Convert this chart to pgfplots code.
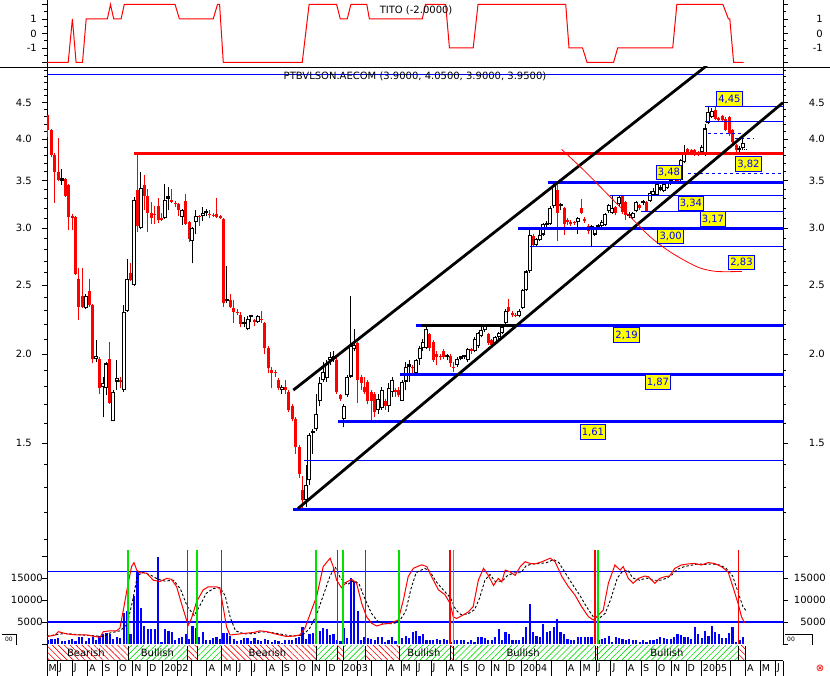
\documentclass[border=0pt]{standalone}
\usepackage{fontspec}
\setmainfont{DejaVu Sans}
\usepackage{pgfplots}
\pgfplotsset{compat=1.18}
\usepackage{pgfplotstable}
\usetikzlibrary{patterns.meta}
\definecolor{pblue}{RGB}{0,0,255}
\definecolor{pred}{RGB}{255,0,0}
\definecolor{pgreen}{RGB}{0,225,0}
\definecolor{pyellow}{RGB}{255,255,0}

% weekly candles: k = week index, o h l c
\pgfplotstableread{
k o h l c
0 4.32 4.32 4.03 4.12
1 4.12 4.13 3.78 3.80
2 3.80 3.82 3.26 3.60
3 3.60 4.01 3.50 3.51
5 3.52 3.53 3.32 3.33
6 3.45 3.46 2.98 3.11
7 3.12 3.14 2.98 3.10
8 3.11 3.12 2.58 2.59
9 2.55 2.64 2.23 2.33
10 2.41 2.64 2.32 2.33
12 2.45 2.55 2.33 2.34
13 2.34 2.35 1.94 1.97
15 1.97 1.98 1.76 1.79
18 1.97 2.08 1.70 1.71
21 1.84 1.86 1.79 1.83
24 2.60 2.68 2.53 2.54
26 3.40 3.81 2.96 3.02
28 3.45 3.56 3.18 3.33
29 3.33 3.41 2.96 3.15
30 3.15 3.27 3.04 3.10
31 3.14 3.22 3.04 3.13
32 3.22 3.31 3.05 3.08
33 3.10 3.15 3.07 3.08
36 3.29 3.41 3.26 3.27
37 3.25 3.28 3.21 3.24
38 3.24 3.25 3.12 3.18
40 3.28 3.35 3.03 3.04
41 3.06 3.07 2.87 2.90
44 3.12 3.13 3.02 3.11
47 3.14 3.18 3.10 3.13
48 3.13 3.15 3.11 3.12
49 3.14 3.31 3.10 3.11
50 3.12 3.13 3.09 3.10
51 3.09 3.10 2.33 2.36
53 2.38 2.43 2.32 2.33
54 2.32 2.38 2.21 2.29
55 2.29 2.31 2.27 2.28
56 2.27 2.29 2.18 2.20
60 2.23 2.24 2.19 2.22
62 2.24 2.30 2.21 2.23
63 2.21 2.22 2.00 2.04
64 2.04 2.05 1.88 1.91
65 1.90 1.92 1.79 1.88
66 1.89 1.90 1.86 1.88
67 1.84 1.85 1.78 1.79
69 1.80 1.84 1.76 1.78
70 1.77 1.78 1.66 1.67
71 1.69 1.70 1.61 1.62
72 1.62 1.63 1.45 1.48
73 1.48 1.49 1.34 1.36
74 1.29 1.35 1.21 1.25
84 1.96 1.98 1.76 1.77
85 1.75 1.76 1.72 1.73
90 2.07 2.08 1.71 1.84
91 1.86 1.87 1.78 1.82
92 1.80 1.86 1.76 1.77
93 1.83 1.84 1.70 1.72
94 1.77 1.78 1.61 1.72
95 1.76 1.77 1.63 1.66
98 1.72 1.73 1.67 1.69
101 1.78 1.79 1.74 1.77
102 1.78 1.80 1.74 1.75
106 1.92 1.93 1.88 1.91
111 2.13 2.14 2.02 2.04
112 2.08 2.09 1.95 1.96
113 2.00 2.02 1.93 1.98
114 1.99 2.00 1.96 1.98
115 2.02 2.03 1.97 1.98
117 1.99 2.00 1.92 1.94
118 1.92 1.95 1.89 1.91
123 2.03 2.04 2.00 2.02
128 2.13 2.14 2.06 2.07
129 2.09 2.10 2.05 2.06
134 2.33 2.39 2.29 2.30
135 2.28 2.30 2.25 2.27
136 2.27 2.28 2.25 2.26
141 2.93 2.95 2.82 2.84
148 3.39 3.45 2.88 3.15
150 3.20 3.21 2.94 3.04
151 3.08 3.10 3.03 3.06
152 3.06 3.08 3.02 3.04
153 3.06 3.07 3.03 3.05
155 3.20 3.30 3.14 3.15
156 3.09 3.11 3.05 3.07
157 3.02 3.04 2.95 2.97
165 3.21 3.22 3.13 3.15
167 3.33 3.34 3.14 3.16
168 3.27 3.28 3.08 3.13
172 3.23 3.24 3.18 3.20
174 3.27 3.28 3.16 3.17
183 3.53 3.54 3.48 3.50
186 3.88 3.89 3.80 3.82
187 3.86 3.87 3.80 3.82
188 3.86 3.87 3.79 3.81
189 3.84 3.85 3.79 3.81
194 4.39 4.44 4.26 4.27
195 4.28 4.29 4.24 4.26
196 4.31 4.32 4.23 4.25
197 4.27 4.30 4.10 4.12
198 4.30 4.31 4.04 4.06
199 4.12 4.13 3.94 3.96
200 3.92 3.94 3.84 3.86
}\redtab

\pgfplotstableread{
k o h l c
4 3.50 3.63 3.45 3.51
11 2.32 2.43 2.31 2.41
14 1.97 2.09 1.95 1.99
16 1.80 1.86 1.63 1.82
17 1.79 1.95 1.75 1.94
19 1.61 1.78 1.61 1.77
20 1.83 1.96 1.78 1.85
22 1.78 2.34 1.77 2.29
23 2.30 2.72 2.29 2.55
25 2.50 3.32 2.49 3.29
27 3.00 3.60 2.99 3.42
34 3.10 3.46 3.09 3.29
35 3.30 3.43 3.18 3.32
39 3.11 3.19 3.03 3.18
42 2.88 3.01 2.68 3.00
43 3.06 3.18 2.95 3.12
45 3.12 3.21 3.07 3.15
46 3.15 3.19 3.12 3.17
52 2.37 2.66 2.36 2.38
57 2.20 2.25 2.18 2.21
58 2.17 2.26 2.16 2.24
59 2.25 2.27 2.22 2.26
61 2.22 2.27 2.21 2.26
68 1.78 1.81 1.76 1.80
75 1.25 1.40 1.22 1.31
76 1.33 1.55 1.31 1.54
77 1.55 1.57 1.45 1.56
78 1.57 1.76 1.56 1.65
79 1.72 1.86 1.69 1.82
80 1.84 1.95 1.83 1.89
81 1.85 1.96 1.83 1.94
82 1.96 2.01 1.93 1.98
83 1.97 2.02 1.95 1.99
86 1.62 1.70 1.58 1.69
87 1.75 1.87 1.74 1.86
88 1.86 2.41 1.85 2.05
89 2.03 2.17 2.02 2.06
96 1.67 1.76 1.65 1.73
97 1.68 1.80 1.67 1.78
99 1.69 1.82 1.66 1.79
100 1.77 1.86 1.74 1.84
103 1.72 1.84 1.72 1.83
104 1.83 1.95 1.78 1.92
105 1.92 1.96 1.83 1.93
107 1.88 1.97 1.87 1.96
108 1.97 2.05 1.93 2.04
109 2.04 2.10 2.02 2.08
110 2.04 2.19 2.03 2.17
116 1.98 2.00 1.96 1.99
119 1.93 1.98 1.92 1.97
120 1.97 1.99 1.96 1.98
121 1.98 1.99 1.97 1.99
122 1.96 2.04 1.95 2.03
124 2.02 2.11 2.01 2.10
125 2.05 2.15 2.04 2.14
126 2.12 2.18 2.11 2.16
127 2.16 2.20 2.15 2.19
130 2.07 2.12 2.06 2.11
131 2.11 2.15 2.10 2.14
132 2.14 2.19 2.13 2.18
133 2.21 2.31 2.20 2.30
137 2.26 2.31 2.25 2.30
138 2.32 2.47 2.31 2.46
139 2.46 2.62 2.45 2.61
140 2.61 3.00 2.60 2.94
142 2.84 2.91 2.83 2.90
143 2.89 3.00 2.88 2.94
144 2.94 3.05 2.93 3.04
145 3.03 3.07 3.01 3.05
146 3.04 3.22 3.03 3.20
147 3.22 3.48 3.20 3.44
149 3.22 3.26 3.18 3.23
154 3.06 3.11 2.95 3.10
158 3.00 3.03 2.82 3.02
159 2.94 3.01 2.93 3.00
160 3.01 3.04 3.00 3.02
161 3.02 3.08 3.01 3.06
162 3.03 3.15 3.02 3.14
163 3.17 3.24 3.15 3.23
164 3.15 3.33 3.14 3.20
166 3.24 3.33 3.22 3.32
169 3.12 3.16 3.10 3.14
170 3.10 3.16 3.09 3.15
171 3.17 3.28 3.16 3.27
173 3.25 3.29 3.23 3.26
175 3.28 3.38 3.27 3.36
176 3.34 3.42 3.33 3.38
177 3.34 3.47 3.33 3.46
178 3.40 3.45 3.38 3.42
179 3.38 3.47 3.37 3.46
180 3.42 3.49 3.41 3.48
181 3.46 3.52 3.45 3.51
182 3.48 3.53 3.47 3.52
184 3.51 3.75 3.50 3.74
185 3.71 3.93 3.70 3.82
190 3.84 3.92 3.83 3.90
191 3.80 4.20 3.79 4.14
192 4.21 4.45 4.20 4.36
193 4.30 4.42 4.28 4.38
201 3.86 3.91 3.84 3.88
202 3.89 4.05 3.88 3.95
}\blacktab

\pgfplotstableread{
k v
0 1000
1 1100
2 1200
3 1300
4 600
5 700
6 800
7 1100
8 700
9 1700
10 1500
11 600
12 1300
13 1500
14 1000
15 1900
16 2300
17 2600
18 2200
19 1100
20 1500
21 1300
22 7000
23 7600
24 2300
25 11000
26 16600
27 8200
28 4000
29 3300
30 3300
31 3400
32 19700
33 400
34 3400
35 3000
36 2800
37 1000
38 1400
39 1500
40 2300
41 1200
42 4000
43 3700
44 1700
45 2800
46 800
47 800
48 1400
49 1700
50 1100
51 2600
52 2500
53 1900
54 1200
55 700
56 1000
57 1300
58 1400
59 700
60 1300
61 800
62 700
63 1100
64 900
65 400
66 800
67 600
68 300
69 800
70 1000
71 900
72 1300
73 1500
74 3800
75 1100
76 2300
77 2500
78 3300
79 3000
80 3700
81 3300
82 2100
83 2200
84 900
85 700
86 3600
87 1300
88 15000
89 14300
90 7400
91 1000
92 1600
93 1300
94 1100
95 900
96 1500
97 1600
98 500
99 800
100 1600
101 700
102 500
103 1300
104 1900
105 1300
106 2700
107 3000
108 1900
109 2300
110 800
111 800
112 800
113 1100
114 800
115 1100
116 800
117 400
118 800
119 800
120 800
121 800
122 500
123 800
124 500
125 1700
126 1500
127 1300
128 800
129 800
130 1700
131 3300
132 800
133 2800
134 2300
135 800
136 800
137 800
138 1500
139 3800
140 9100
141 2700
142 1900
143 1500
144 4500
145 2700
146 3000
147 3800
148 5700
149 2700
150 2300
151 1100
152 800
153 800
154 1500
155 1700
156 1700
157 1500
158 1700
159 800
160 800
161 1100
162 1300
163 1900
164 500
165 1500
166 1300
167 1100
168 800
169 1100
170 800
171 800
172 400
173 800
174 500
175 800
176 1000
177 1100
178 1500
179 1300
180 1100
181 1100
182 1500
183 2300
184 2000
185 1700
186 1500
187 1100
188 3800
189 2300
190 1300
191 3000
192 1900
193 4200
194 2700
195 2300
196 1300
197 1300
198 2500
199 3800
200 500
201 800
202 1500
}\voltab

\pgfplotsset{
  base/.style={scale only axis, width=736pt, xmin=-0.29, xmax=213.66, xtick=\empty,
    tick align=outside, major tick length=5pt, minor tick length=3pt,
    tick style={black, line width=0.6pt}, axis line style={black, line width=0.8pt},
    anchor=north west},
  rlab/.style={axis line style={draw=none}, major tick length=0pt, minor tick length=0pt,
    yticklabel pos=right, yticklabel style={anchor=east, inner sep=0pt, xshift=#1}},
  candle/.style={only marks, mark size=0pt, mark options={draw=none, fill=none}, forget plot,
    error bars/y dir=plus, error bars/y explicit, error bars/error mark=none,
    error bars/error bar style={#1}},
  hl/.style={forget plot},
}
\tikzset{lbl/.style={fill=pyellow, draw=pblue, line width=0.9pt, text=pblue, inner sep=1.8pt,
    minimum height=14.5pt}}

\begin{document}
\begin{tikzpicture}[x=1pt,y=1pt,font=\fontsize{10}{12}\selectfont]
\useasboundingbox (0pt,0pt) rectangle (830pt,-676pt);

% ---------------- TITO panel ----------------
\begin{axis}[base, at={(47pt,0pt)}, height=67pt, ymin=-2.31, ymax=2.31,
  separate axis lines, x axis line style={draw=none},
  ytick={-2,-1,0,1,2}, yticklabels={,-1,0,1,}, minor ytick={-1.5,-0.5,0.5,1.5},
  yticklabel style={anchor=east, inner sep=0pt, xshift=-5pt}]
\addplot[pred, line width=1pt] coordinates {(-0.29,-2)(5.87,-2)(7.09,1)(8.17,-2)(10.03,-2)(11.1,1)(17.24,1)(18.17,2)(19.1,1)(21.25,1)(22.18,2)(36.95,2)(38.2,1)(48.02,1)(49.27,2)(49.88,2)(50.96,-2)(73.9,-2)(75.9,2)(83.9,2)(84.97,1)(86.98,1)(88.05,2)(92.67,2)(93.43,1)(108.8,1)(109.74,2)(115.6,2)(116.7,-1)(123.6,-1)(125,2)(150.5,2)(151.45,-1)(155.4,-1)(156.7,-2)(164.4,-2)(165.6,-1)(181.6,-1)(182.8,2)(196.2,2)(197.8,1)(198.2,1)(199.3,-2)(202.2,-2)};
\node at (axis cs:107,1.62) {TITO (-2.0000)};
\end{axis}
\begin{axis}[base, at={(47pt,0pt)}, height=67pt, ymin=-2.31, ymax=2.31, rlab=40pt,
  ytick={-1,0,1}, yticklabels={-1,0,1}]
\end{axis}

% ---------------- price panel ----------------
\begin{axis}[base, at={(47pt,-67pt)}, height=477pt, ymin=0.0802, ymax=1.6189,
  separate axis lines, x axis line style={draw=none},
  ytick={0.40547,0.69315,0.91629,1.09861,1.25276,1.38629,1.50408},
  yticklabels={1.5,2.0,2.5,3.0,3.5,4.0,4.5},
  minor ytick={0.09531,0.18232,0.26236,0.33647,0.47000,0.53063,0.58779,0.64185,0.74194,0.78846,0.83291,0.87547,0.95551,0.99325,1.02962,1.06471,1.13140,1.16315,1.19392,1.22378,1.28093,1.30833,1.33500,1.36098,1.41099,1.43508,1.45862,1.48160,1.52606,1.54756,1.56862,1.58924,1.60944},
  yticklabel style={anchor=east, inner sep=0pt, xshift=-10pt}]
% red candles: wicks then bodies
\addplot[candle={pred, line width=1pt}] table[x=k, y expr=ln(\thisrow{l}), y error expr=ln(\thisrow{h})-ln(\thisrow{l})] {\redtab};
\addplot[candle={pred, line width=3pt}] table[x=k, y expr=ln(\thisrow{c}), y error expr={max(ln(\thisrow{o})-ln(\thisrow{c}),0.005)}] {\redtab};
% black candles: wicks, outline, hollow interior
\addplot[candle={black, line width=1pt}] table[x=k, y expr=ln(\thisrow{l}), y error expr=ln(\thisrow{h})-ln(\thisrow{l})] {\blacktab};
\addplot[candle={black, line width=4pt}] table[x=k, y expr=ln(\thisrow{o}), y error expr={max(ln(\thisrow{c})-ln(\thisrow{o}),0.008)}] {\blacktab};
\addplot[candle={white, line width=2pt}] table[x=k, y expr={ln(\thisrow{o})+0.0035}, y error expr={max(ln(\thisrow{c})-ln(\thisrow{o})-0.007,0)}] {\blacktab};
% horizontal levels
\addplot[hl, pblue, line width=1pt] table[row sep=\\, y expr=ln(\thisrow{p})] {k p\\ -0.29 4.92\\ 213.66 4.92\\};
\addplot[hl, pblue, line width=1pt] table[row sep=\\, y expr=ln(\thisrow{p})] {k p\\ 191 4.45\\ 213.66 4.45\\};
\addplot[hl, pblue, line width=1pt] table[row sep=\\, y expr=ln(\thisrow{p})] {k p\\ 191 4.23\\ 213.66 4.23\\};
\addplot[hl, pblue, line width=1pt, dash pattern=on 3pt off 3pt] table[row sep=\\, y expr=ln(\thisrow{p})] {k p\\ 191.9 4.07\\ 202 4.07\\};
\addplot[hl, pblue, line width=1pt, dash pattern=on 3pt off 3pt] table[row sep=\\, y expr=ln(\thisrow{p})] {k p\\ 199.7 4.01\\ 205 4.01\\};
\addplot[hl, black, line width=0.8pt, dash pattern=on 1pt off 1pt] table[row sep=\\, y expr=ln(\thisrow{p})] {k p\\ 201.8 3.87\\ 203.4 3.87\\};
\addplot[hl, pblue, line width=1pt, dash pattern=on 3pt off 3pt] table[row sep=\\, y expr=ln(\thisrow{p})] {k p\\ 186 3.58\\ 213.66 3.58\\};
\addplot[hl, pred, line width=3pt] table[row sep=\\, y expr=ln(\thisrow{p})] {k p\\ 25 3.82\\ 213.66 3.82\\};
\addplot[hl, pblue, line width=3pt] table[row sep=\\, y expr=ln(\thisrow{p})] {k p\\ 145.3 3.48\\ 213.66 3.48\\};
\addplot[hl, pblue, line width=1pt] table[row sep=\\, y expr=ln(\thisrow{p})] {k p\\ 163.4 3.34\\ 213.66 3.34\\};
\addplot[hl, pblue, line width=1pt] table[row sep=\\, y expr=ln(\thisrow{p})] {k p\\ 172.4 3.17\\ 213.66 3.17\\};
\addplot[hl, pblue, line width=3.5pt] table[row sep=\\, y expr=ln(\thisrow{p})] {k p\\ 136.6 3.00\\ 213.66 3.00\\};
\addplot[hl, pblue, line width=1pt] table[row sep=\\, y expr=ln(\thisrow{p})] {k p\\ 140.1 2.83\\ 213.66 2.83\\};
\addplot[hl, pblue, line width=3pt] table[row sep=\\, y expr=ln(\thisrow{p})] {k p\\ 107 2.19\\ 213.66 2.19\\};
\addplot[hl, black, line width=3pt] table[row sep=\\, y expr=ln(\thisrow{p})] {k p\\ 108.5 2.19\\ 136 2.19\\};
\addplot[hl, pblue, line width=3pt] table[row sep=\\, y expr=ln(\thisrow{p})] {k p\\ 102.3 1.87\\ 213.66 1.87\\};
\addplot[hl, pblue, line width=3pt] table[row sep=\\, y expr=ln(\thisrow{p})] {k p\\ 84.3 1.61\\ 213.66 1.61\\};
\addplot[hl, pblue, line width=1pt] table[row sep=\\, y expr=ln(\thisrow{p})] {k p\\ 74.4 1.42\\ 213.66 1.42\\};
\addplot[hl, pblue, line width=3pt] table[row sep=\\, y expr=ln(\thisrow{p})] {k p\\ 71.2 1.21\\ 213.66 1.21\\};
% trend channel
\addplot[hl, black, line width=2.8pt] table[row sep=\\, y expr=ln(\thisrow{p})] {k p\\ 72.67 1.215\\ 213.66 4.50\\};
\addplot[hl, black, line width=2.8pt] table[row sep=\\, y expr=ln(\thisrow{p})] {k p\\ 71.31 1.78\\ 191.5 5.07\\};
% red arc
\addplot[hl, pred, line width=0.8pt, smooth] table[row sep=\\, y expr=ln(\thisrow{p})] {k p\\ 149.3 3.87\\ 154.7 3.66\\ 158.5 3.51\\ 165.3 3.25\\ 171.1 3.05\\ 175 2.92\\ 179.9 2.80\\ 184.7 2.71\\ 189.5 2.64\\ 194.4 2.61\\ 201.7 2.61\\};
% labels
\node[inner sep=1pt] at (axis cs:106.7,1.5899) {PTBVLSON.AECOM (3.9000, 4.0500, 3.9000, 3.9500)};
\node[lbl] at (axis cs:198.1,1.5157) {4,45};
\node[lbl] at (axis cs:203.6,1.3060) {3,82};
\node[lbl] at (axis cs:180.5,1.2786) {3,48};
\node[lbl] at (axis cs:186.9,1.1786) {3,34};
\node[lbl] at (axis cs:193.3,1.1286) {3,17};
\node[lbl] at (axis cs:181.0,1.0721) {3,00};
\node[lbl] at (axis cs:201.6,0.9883) {2,83};
\node[lbl] at (axis cs:168.2,0.7544) {2,19};
\node[lbl] at (axis cs:177.3,0.6028) {1,87};
\node[lbl] at (axis cs:158.4,0.4415) {1,61};
\end{axis}
\begin{axis}[base, at={(47pt,-67pt)}, height=477pt, ymin=0.0802, ymax=1.6189, rlab=42pt,
  ytick={0.40547,0.69315,0.91629,1.09861,1.25276,1.38629,1.50408},
  yticklabels={1.5,2.0,2.5,3.0,3.5,4.0,4.5}]
\end{axis}

% ---------------- volume panel ----------------
\begin{axis}[base, at={(47pt,-544pt)}, height=100pt, ymin=0, ymax=22727,
  separate axis lines, x axis line style={draw=none}, scaled y ticks=false,
  ytick={0,5000,10000,15000,20000}, yticklabels={,5000,10000,15000,},
  yticklabel style={anchor=east, inner sep=0pt, xshift=1pt}]
\addplot[ycomb, pblue, line width=2.2pt, forget plot] table[x=k, y=v] {\voltab};
\addplot[hl, pblue, line width=1.2pt] coordinates {(-0.29,16400)(213.66,16400)};
\addplot[hl, pblue, line width=1.2pt] coordinates {(-0.29,5000)(213.66,5000)};
\addplot[hl, black, line width=0.9pt, dash pattern=on 2.5pt off 2pt] coordinates {(-0.29,1800)(3,2200)(5,2400)(9,2100)(13,1900)(16,1700)(18,2500)(21,3000)(23,4500)(24.5,9500)(26,15500)(27.5,16300)(30,15600)(32,14700)(34,14300)(36.5,14500)(38.5,12500)(40.5,8500)(42.5,6500)(44,8500)(46,11500)(48,12600)(50,12800)(51.5,11000)(53,6000)(54.5,3000)(57,2300)(60,2400)(62,2800)(65,2600)(68,2200)(71,1800)(74,2000)(76,3500)(78,6500)(80,11000)(82,15500)(83.5,17500)(85,15000)(87,13500)(89,14500)(90.5,13500)(92,10500)(94,7000)(96,5000)(98,4600)(100,4600)(102,5000)(104,7500)(105.5,12500)(107,16200)(109.5,17200)(111,16500)(113,14000)(115,12200)(117,10500)(118.5,7800)(120,6700)(122,6800)(124,7800)(125.5,10500)(127,14500)(128.5,15800)(130,14200)(132,14300)(133.5,15500)(135.5,16200)(137.5,16200)(139,17800)(141,18200)(143,18300)(145,18500)(147,19200)(148.5,18500)(150.5,16000)(152.5,13500)(154.5,11200)(156.5,8500)(158.5,6200)(160.5,6000)(162,7000)(163.5,10000)(165.5,15000)(167,16500)(168.5,16800)(170,15000)(172,14500)(174,15000)(176,14500)(178,14500)(180,15000)(181.5,15800)(183,17000)(185,17600)(187,17900)(189,18200)(191,18100)(193,18200)(195,18000)(197,17300)(199,15500)(200.5,12000)(202,8500)(203,7500)};
\addplot[hl, pred, line width=1pt] coordinates {(-0.29,1700)(2.0,2000)(3.0,2800)(5.4,2300)(8.3,2050)(11.2,2050)(13.7,1700)(15.1,1500)(16.1,2800)(18.0,3000)(19.9,3000)(20.9,3600)(21.9,7700)(23.3,13800)(24.3,17600)(25.0,18500)(25.8,16800)(26.7,16200)(28.7,16100)(30.6,14500)(32.5,14200)(34.5,14900)(35.9,14700)(37.4,13000)(38.8,9200)(40.3,5400)(40.8,4300)(41.7,5800)(43.2,9600)(45.1,12300)(46.6,13000)(49.0,13000)(50.0,12600)(50.9,8500)(51.9,3900)(52.9,2050)(54.8,2200)(56.8,2400)(59.7,2600)(61.6,3000)(63.6,2800)(65.5,2400)(67.4,2050)(69.4,1700)(71.3,1800)(73.2,2050)(74.7,3600)(76.6,7700)(78.1,10800)(80.0,17600)(82.0,19500)(82.9,17600)(83.9,14500)(85.3,12800)(86.8,14100)(88.3,14700)(89.7,13800)(91.2,9200)(92.6,6200)(94.1,4700)(95.5,4100)(97.5,4550)(99.4,4700)(101.8,5450)(103.3,10000)(104.7,15300)(106.2,17200)(108.6,18000)(110.1,17600)(111.5,15300)(113.5,12300)(115.4,11200)(116.9,9200)(117.8,6200)(118.8,5800)(120.7,6600)(122.2,7300)(123.6,8500)(125.1,14500)(126.6,17200)(128.0,15600)(129.5,13300)(130.9,14900)(131.9,14100)(132.9,16800)(134.3,16400)(135.8,15600)(137.3,17600)(138.7,18700)(140.2,18300)(141.6,18200)(143.6,18700)(146.0,19500)(147.4,18700)(149.4,15300)(151.3,13000)(153.2,11100)(155.1,8500)(157.1,6200)(158.5,5450)(160.0,6600)(161.4,7700)(162.9,13800)(164.8,17950)(166.3,16800)(167.2,17600)(168.7,14900)(170.1,13800)(171.6,14900)(173.5,15450)(174.5,15300)(176.4,13800)(177.8,14900)(179.3,15300)(180.7,15450)(182.2,17200)(184.1,17950)(186.1,18200)(188.0,18300)(189.9,17950)(191.9,18500)(193.8,18300)(195.7,17600)(197.7,16400)(199.1,13000)(200.6,9200)(201.6,6200)(202.5,4800)};
\addplot[ycomb, pgreen, line width=1.6pt, forget plot] coordinates {(23.34,21360)(43.40,21360)(77.91,21360)(85.84,21360)(102.12,21360)(117.82,21360)(159.80,21360)};
\addplot[ycomb, pred, line width=1.6pt, forget plot] coordinates {(40.61,21360)(50.49,21360)(84.10,21360)(92.35,21360)(116.86,21360)(159.01,21360)(200.67,21360)};
\end{axis}
\begin{axis}[base, at={(47pt,-544pt)}, height=100pt, ymin=0, ymax=22727, rlab=43pt,
  scaled y ticks=false, ytick={5000,10000,15000}, yticklabels={5000,10000,15000}]
\end{axis}

% ---------------- signal band and months ----------------
\begin{axis}[base, at={(47pt,-644pt)}, height=32pt, ymin=0, ymax=32, clip=false,
  axis line style={draw=none}, ytick=\empty]
\pgfplotsset{bear/.style={draw=none, forget plot, pattern={Lines[angle=-45,distance=4.2pt,line width=0.6pt]}, pattern color=pred},
  bull/.style={draw=none, forget plot, pattern={Lines[angle=45,distance=4.2pt,line width=0.6pt]}, pattern color=pgreen}}
\addplot[bear] coordinates {(-0.29,15.5)(-0.29,30.5)(23.34,30.5)(23.34,15.5)};
\addplot[bull] coordinates {(23.34,15.5)(23.34,30.5)(40.61,30.5)(40.61,15.5)};
\addplot[bear] coordinates {(40.61,15.5)(40.61,30.5)(43.40,30.5)(43.40,15.5)};
\addplot[bull] coordinates {(43.40,15.5)(43.40,30.5)(50.49,30.5)(50.49,15.5)};
\addplot[bear] coordinates {(50.49,15.5)(50.49,30.5)(77.91,30.5)(77.91,15.5)};
\addplot[bull] coordinates {(77.91,15.5)(77.91,30.5)(84.10,30.5)(84.10,15.5)};
\addplot[bear] coordinates {(84.10,15.5)(84.10,30.5)(85.84,30.5)(85.84,15.5)};
\addplot[bull] coordinates {(85.84,15.5)(85.84,30.5)(92.35,30.5)(92.35,15.5)};
\addplot[bear] coordinates {(92.35,15.5)(92.35,30.5)(102.12,30.5)(102.12,15.5)};
\addplot[bull] coordinates {(102.12,15.5)(102.12,30.5)(116.86,30.5)(116.86,15.5)};
\addplot[bear] coordinates {(116.86,15.5)(116.86,30.5)(117.82,30.5)(117.82,15.5)};
\addplot[bull] coordinates {(117.82,15.5)(117.82,30.5)(159.01,30.5)(159.01,15.5)};
\addplot[bear] coordinates {(159.01,15.5)(159.01,30.5)(159.80,30.5)(159.80,15.5)};
\addplot[bull] coordinates {(159.80,15.5)(159.80,30.5)(200.67,30.5)(200.67,15.5)};
\addplot[bear] coordinates {(200.67,15.5)(200.67,30.5)(202.62,30.5)(202.62,15.5)};
\addplot[only marks, mark size=0pt, mark options={draw=none, fill=none}, forget plot, error bars/y dir=plus, error bars/y fixed=15, error bars/error mark=none, error bars/error bar style={black, line width=0.8pt}] coordinates {(23.34,15.5)(40.61,15.5)(43.40,15.5)(50.49,15.5)(77.91,15.5)(84.10,15.5)(85.84,15.5)(92.35,15.5)(102.12,15.5)(116.86,15.5)(117.82,15.5)(159.01,15.5)(159.80,15.5)(200.67,15.5)(202.62,15.5)};
\addplot[hl, black, line width=0.8pt] coordinates {(-0.29,15.5)(213.66,15.5)};
\node at (axis cs:11.0,23) {Bearish};
\node at (axis cs:31.8,23) {Bullish};
\node at (axis cs:63.8,23) {Bearish};
\node at (axis cs:109.3,23) {Bullish};
\node at (axis cs:138.1,23) {Bullish};
\node at (axis cs:179.9,23) {Bullish};
% month labels
\foreach \mk/\ml in {-0.29/M,2.76/J,7.04/J,11.47/A,15.90/S,20.18/O,24.61/N,28.90/D,33.33/2002,46.18/A,50.47/M,54.90/J,59.18/J,63.61/A,68.04/S,72.33/O,76.76/N,81.04/D,85.47/2003,98.33/A,102.61/M,107.04/J,111.33/J,115.76/A,120.19/S,124.47/O,128.90/N,133.19/D,137.61/2004,150.61/A,154.90/M,159.33/J,163.61/J,168.04/A,172.47/S,176.76/O,181.19/N,185.47/D,189.90/2005,202.76/A,207.04/M,211.47/J}{
  \edef\temp{\noexpand\node[anchor=west, inner sep=0pt, xshift=1.5pt, font=\noexpand\fontsize{9.5}{11}\noexpand\selectfont] at (axis cs:\mk,8) {\ml};}
  \temp
}
\addplot[ycomb, black, line width=0.8pt, forget plot] coordinates {(2.76,15.5)(7.04,15.5)(11.47,15.5)(15.90,15.5)(20.18,15.5)(24.61,15.5)(28.90,15.5)(33.33,15.5)(37.76,15.5)(41.76,15.5)(46.18,15.5)(50.47,15.5)(54.90,15.5)(59.18,15.5)(63.61,15.5)(68.04,15.5)(72.33,15.5)(76.76,15.5)(81.04,15.5)(85.47,15.5)(89.90,15.5)(93.90,15.5)(98.33,15.5)(102.61,15.5)(107.04,15.5)(111.33,15.5)(115.76,15.5)(120.19,15.5)(124.47,15.5)(128.90,15.5)(133.19,15.5)(137.61,15.5)(142.04,15.5)(146.19,15.5)(150.61,15.5)(154.90,15.5)(159.33,15.5)(163.61,15.5)(168.04,15.5)(172.47,15.5)(176.76,15.5)(181.19,15.5)(185.47,15.5)(189.90,15.5)(194.33,15.5)(198.33,15.5)(202.76,15.5)(207.04,15.5)(211.47,15.5)(213.66,15.5)};
\end{axis}

% frame decorations
\draw[line width=0.8pt] (0pt,-67pt) -- (830pt,-67pt);
\draw[line width=0.8pt] (47pt,-644pt) -- (47pt,-676pt);
\node[font=\fontsize{6}{6}\selectfont, inner sep=0pt] at (9pt,-639pt) {00};
\draw[line width=0.6pt] (2pt,-634pt) -- (16pt,-634pt) -- (16pt,-645pt);
\node[font=\fontsize{6}{6}\selectfont, inner sep=0pt] at (791pt,-639pt) {00};
\draw[line width=0.6pt] (785pt,-634pt) -- (812pt,-634pt) -- (812pt,-645pt);
\node[text=pred, inner sep=0pt] at (820pt,-668pt) {⊗};
\end{tikzpicture}
\end{document}
